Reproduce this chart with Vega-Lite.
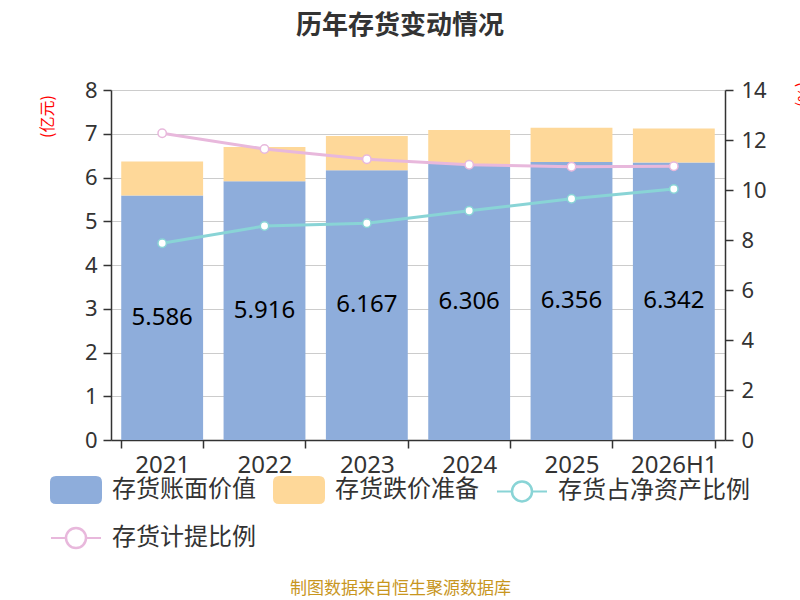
{
  "$schema": "https://vega.github.io/schema/vega-lite/v6.json",
  "autosize": {"type": "none"},
  "width": 614,
  "height": 350,
  "padding": {"left": 111, "top": 90, "right": 75, "bottom": 160},
  "background": "white",
  "config": {"view": {"stroke": null}},
  "title": {
    "text": "历年存货变动情况",
    "font": "Noto Sans CJK SC",
    "fontSize": 26,
    "fontWeight": "bold",
    "color": "#333333",
    "anchor": "middle",
    "dx": -18,
    "offset": 40
  },
  "data": {
    "values": [
      {"year": "2021", "series": "存货账面价值", "value": 5.586},
      {"year": "2021", "series": "存货跌价准备", "value": 0.78},
      {"year": "2021", "series": "存货占净资产比例", "value": 7.87},
      {"year": "2021", "series": "存货计提比例", "value": 12.27},
      {"year": "2022", "series": "存货账面价值", "value": 5.916},
      {"year": "2022", "series": "存货跌价准备", "value": 0.78},
      {"year": "2022", "series": "存货占净资产比例", "value": 8.56},
      {"year": "2022", "series": "存货计提比例", "value": 11.64},
      {"year": "2023", "series": "存货账面价值", "value": 6.167},
      {"year": "2023", "series": "存货跌价准备", "value": 0.78},
      {"year": "2023", "series": "存货占净资产比例", "value": 8.67},
      {"year": "2023", "series": "存货计提比例", "value": 11.23},
      {"year": "2024", "series": "存货账面价值", "value": 6.306},
      {"year": "2024", "series": "存货跌价准备", "value": 0.78},
      {"year": "2024", "series": "存货占净资产比例", "value": 9.17},
      {"year": "2024", "series": "存货计提比例", "value": 11.01},
      {"year": "2025", "series": "存货账面价值", "value": 6.356},
      {"year": "2025", "series": "存货跌价准备", "value": 0.78},
      {"year": "2025", "series": "存货占净资产比例", "value": 9.65},
      {"year": "2025", "series": "存货计提比例", "value": 10.93},
      {"year": "2026H1", "series": "存货账面价值", "value": 6.342},
      {"year": "2026H1", "series": "存货跌价准备", "value": 0.78},
      {"year": "2026H1", "series": "存货占净资产比例", "value": 10.04},
      {"year": "2026H1", "series": "存货计提比例", "value": 10.95}
    ]
  },
  "encoding": {
    "x": {
      "field": "year",
      "type": "nominal",
      "scale": {"paddingInner": 0.2, "paddingOuter": 0.1},
      "axis": {
        "title": "制图数据来自恒生聚源数据库",
        "titleX": 289,
        "titleY": 148,
        "titleAlign": "center",
        "titleBaseline": "middle",
        "titleColor": "#c8961e",
        "titleFont": "Noto Sans CJK SC",
        "titleFontSize": 17,
        "titleFontWeight": "normal",
        "labelAngle": 0,
        "labelFont": "Noto Sans",
        "labelFontSize": 24,
        "labelColor": "#333333",
        "labelPadding": 5,
        "tickBand": "extent",
        "tickSize": 8,
        "tickWidth": 1.5,
        "tickColor": "#333333",
        "domainColor": "#333333",
        "domainWidth": 1.5
      }
    }
  },
  "layer": [
    {
      "layer": [
        {
          "transform": [{"filter": "datum.series === '存货账面价值' || datum.series === '存货跌价准备'"}],
          "mark": {"type": "bar"},
          "encoding": {
            "y": {
              "field": "value",
              "type": "quantitative",
              "stack": "zero",
              "scale": {"domain": [0, 8]},
              "axis": {
                "title": "(亿元)",
                "titleColor": "red",
                "titleFont": "Noto Sans CJK SC",
                "titleFontSize": 16,
                "titleFontWeight": "normal",
                "titleX": -64,
                "titleY": 26,
                "titleAngle": -90,
                "titleAlign": "center",
                "titleBaseline": "middle",
                "values": [0, 1, 2, 3, 4, 5, 6, 7, 8],
                "labelFont": "Noto Sans",
                "labelFontSize": 22,
                "labelColor": "#333333",
                "labelPadding": 6,
                "tickSize": 8,
                "tickWidth": 1.5,
                "tickColor": "#333333",
                "domainColor": "#333333",
                "domainWidth": 1.5,
                "grid": true,
                "gridColor": "#cccccc",
                "gridWidth": 1
              }
            },
            "order": {"field": "series", "sort": "ascending"},
            "color": {
              "field": "series",
              "type": "nominal",
              "scale": {
                "domain": ["存货账面价值", "存货跌价准备", "存货占净资产比例", "存货计提比例"],
                "range": ["#8eaddb", "#fed899", "#89d4d6", "#e8b8dc"]
              },
              "legend": {
                "title": null,
                "orient": "none",
                "legendX": -61,
                "legendY": 374,
                "direction": "horizontal",
                "columns": 3,
                "columnPadding": 14,
                "rowPadding": 5,
                "symbolSize": 2500,
                "labelFont": "Noto Sans CJK SC",
                "labelFontSize": 24,
                "labelColor": "#333333",
                "labelOffset": 10,
                "labelLimit": 400,
                "encode": {
                  "symbols": {
                    "update": {
                      "shape": {"signal": "datum.value === '存货占净资产比例' || datum.value === '存货计提比例' ? 'M-1,0L-0.41,0M0.41,0L1,0M-0.41,0A0.41,0.41 0 1 1 0.41,0A0.41,0.41 0 1 1 -0.41,0ZM-0.39,0A0.39,0.39 0 1 0 0.39,0A0.39,0.39 0 1 0 -0.39,0Z' : 'M-0.8,-0.52L0.8,-0.52Q1,-0.52 1,-0.32L1,0.32Q1,0.52 0.8,0.52L-0.8,0.52Q-1,0.52 -1,0.32L-1,-0.32Q-1,-0.52 -0.8,-0.52Z'"},
                      "stroke": {"signal": "datum.value === '存货占净资产比例' || datum.value === '存货计提比例' ? scale('color', datum.value) : 'transparent'"},
                      "strokeWidth": {"value": 2},
                      "size": {"value": 2500},
                      "opacity": {"value": 1}
                    }
                  }
                }
              }
            }
          }
        },
        {
          "transform": [
            {"filter": "datum.series === '存货账面价值'"},
            {"calculate": "datum.value / 2", "as": "mid"}
          ],
          "mark": {"type": "text", "font": "Noto Sans", "fontSize": 24, "color": "#000000", "baseline": "middle"},
          "encoding": {
            "y": {"field": "mid", "type": "quantitative"},
            "text": {"field": "value", "type": "quantitative", "format": ".3f"}
          }
        }
      ]
    },
    {
      "layer": [
        {
          "transform": [{"filter": "datum.series === '存货占净资产比例' || datum.series === '存货计提比例'"}],
          "mark": {"type": "line", "strokeWidth": 3},
          "encoding": {
            "y": {
              "field": "value",
              "type": "quantitative",
              "scale": {"domain": [0, 14]},
              "axis": {
                "orient": "right",
                "title": "(%)",
                "titleColor": "red",
                "titleFont": "Noto Sans CJK SC",
                "titleFontSize": 16,
                "titleFontWeight": "normal",
                "titleX": 77,
                "titleY": 4,
                "titleAngle": 90,
                "titleAlign": "center",
                "titleBaseline": "middle",
                "values": [0, 2, 4, 6, 8, 10, 12, 14],
                "labelFont": "Noto Sans",
                "labelFontSize": 22,
                "labelColor": "#333333",
                "labelPadding": 8,
                "tickSize": 8,
                "tickWidth": 1.5,
                "tickColor": "#333333",
                "domainColor": "#333333",
                "domainWidth": 1.5,
                "grid": false
              }
            },
            "color": {
              "field": "series",
              "type": "nominal",
              "scale": {
                "domain": ["存货账面价值", "存货跌价准备", "存货占净资产比例", "存货计提比例"],
                "range": ["#8eaddb", "#fed899", "#89d4d6", "#e8b8dc"]
              }
            }
          }
        },
        {
          "transform": [{"filter": "datum.series === '存货占净资产比例' || datum.series === '存货计提比例'"}],
          "mark": {"type": "point", "shape": "circle", "filled": true, "fill": "white", "size": 70, "strokeWidth": 1.5, "opacity": 1},
          "encoding": {
            "y": {"field": "value", "type": "quantitative"},
            "stroke": {
              "field": "series",
              "type": "nominal",
              "scale": {
                "domain": ["存货账面价值", "存货跌价准备", "存货占净资产比例", "存货计提比例"],
                "range": ["#8eaddb", "#fed899", "#89d4d6", "#e8b8dc"]
              },
              "legend": null
            }
          }
        }
      ]
    }
  ],
  "resolve": {"scale": {"y": "independent"}}
}
